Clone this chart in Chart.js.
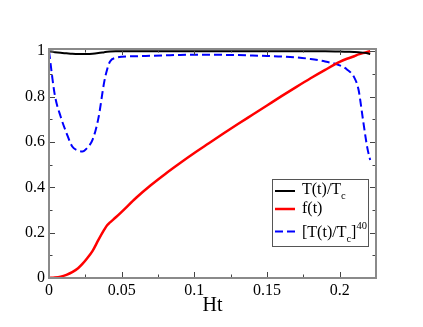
<!DOCTYPE html>
<html>
<head>
<meta charset="utf-8">
<script src="https://cdn.jsdelivr.net/npm/chart.js@4.4.1/dist/chart.umd.min.js"></script>
<style>
  html, body { margin: 0; padding: 0; background: #fff; }
  canvas { display: block; }
</style>
</head>
<body>
<canvas id="chart" width="423" height="327"></canvas>
<script>
// Ht sample points shared by the three curves
const hValues = [0, 0.004, 0.008, 0.012, 0.016, 0.02, 0.023, 0.026, 0.03, 0.034, 0.038, 0.04, 0.042, 0.046,
  0.05, 0.06, 0.07, 0.08, 0.09, 0.1, 0.11, 0.12, 0.13, 0.14, 0.15, 0.16, 0.17, 0.18, 0.19, 0.2,
  0.205, 0.21, 0.213, 0.216, 0.219, 0.221];

const tRatio = [1.0, 0.996, 0.993, 0.991, 0.989, 0.988, 0.988, 0.988, 0.989, 0.992, 0.996, 0.998, 0.999, 1.0,
  1.0, 1.0, 1.0, 1.0, 1.0, 1.0, 1.0, 1.0, 1.0, 1.0, 1.0, 1.0, 1.0, 1.0, 1.0, 0.999,
  0.998, 0.997, 0.996, 0.994, 0.991, 0.988];

const fValues = [0, 0.002, 0.006, 0.014, 0.026, 0.043, 0.062, 0.085, 0.12, 0.168, 0.213, 0.233, 0.245, 0.268,
  0.292, 0.354, 0.409, 0.459, 0.506, 0.551, 0.594, 0.637, 0.679, 0.72, 0.761, 0.802, 0.842, 0.881, 0.918, 0.953,
  0.967, 0.978, 0.986, 0.992, 0.997, 1.0];

const tPow40 = [1.0, 0.807, 0.712, 0.64, 0.58, 0.562, 0.558, 0.572, 0.61, 0.705, 0.865, 0.92, 0.955, 0.971,
  0.976, 0.978, 0.98, 0.982, 0.984, 0.985, 0.985, 0.984, 0.983, 0.981, 0.979, 0.977, 0.973, 0.966, 0.955, 0.938,
  0.92, 0.885, 0.83, 0.70, 0.575, 0.52];

const xTickValues = [0, 0.05, 0.1, 0.15, 0.2];
const xTickLabels = ["0", "0.05", "0.1", "0.15", "0.2"];
const yTickValues = [0, 0.2, 0.4, 0.6, 0.8, 1];
const yTickLabels = ["0", "0.2", "0.4", "0.6", "0.8", "1"];

const SERIF = '"Liberation Serif", "DejaVu Serif", serif';

function toPoints(ys) {
  return hValues.map((x, i) => ({ x, y: ys[i] }));
}

function minorsOf(values) {
  const out = [];
  for (let i = 0; i < values.length - 1; i += 1) out.push((values[i] + values[i + 1]) / 2);
  return out;
}

// grey frame with inward ticks on all four sides
const frameAndTicks = {
  id: "frameAndTicks",
  afterDatasetsDraw(chart) {
    const { ctx, chartArea: a, scales: { x, y } } = chart;
    ctx.save();
    ctx.strokeStyle = "#444";
    ctx.lineWidth = 1;
    const xTick = (v, len) => {
      const px = Math.round(x.getPixelForValue(v)) + 0.5;
      ctx.beginPath();
      ctx.moveTo(px, a.bottom);
      ctx.lineTo(px, a.bottom - len);
      ctx.moveTo(px, a.top);
      ctx.lineTo(px, a.top + len);
      ctx.stroke();
    };
    const yTick = (v, len) => {
      const py = Math.round(y.getPixelForValue(v)) + 0.5;
      ctx.beginPath();
      ctx.moveTo(a.left, py);
      ctx.lineTo(a.left + len, py);
      ctx.moveTo(a.right, py);
      ctx.lineTo(a.right - len, py);
      ctx.stroke();
    };
    xTickValues.forEach((v) => xTick(v, 6));
    minorsOf(xTickValues).forEach((v) => xTick(v, 3.5));
    yTickValues.forEach((v) => yTick(v, 6));
    minorsOf(yTickValues).forEach((v) => yTick(v, 3.5));

    ctx.strokeStyle = "#8a8a8a";
    ctx.lineWidth = 2;
    ctx.strokeRect(a.left, a.top, a.right - a.left, a.bottom - a.top);
    ctx.restore();
  },
};

function drawRich(ctx, parts, x, y) {
  parts.forEach((part) => {
    const small = part.sub || part.sup;
    ctx.font = `${small ? 10.5 : 16}px ${SERIF}`;
    const dy = part.sub ? 5 : part.sup ? -8 : 0;
    ctx.fillText(part.t, x, y + dy);
    x += ctx.measureText(part.t).width;
  });
}

const legendBox = {
  id: "legendBox",
  afterDraw(chart) {
    const { ctx, chartArea: a } = chart;
    const left = a.right - 104;
    const top = a.top + 130;
    ctx.save();
    ctx.fillStyle = "#fff";
    ctx.fillRect(left, top, 96, 67);
    ctx.strokeStyle = "#555";
    ctx.lineWidth = 1;
    ctx.strokeRect(left + 0.5, top + 0.5, 96, 67);
    const rows = [
      { line: 12, base: 15 },
      { line: 30, base: 33.5 },
      { line: 52.5, base: 57.5 },
    ];
    chart.data.datasets.forEach((ds, i) => {
      const r = rows[i];
      ctx.beginPath();
      ctx.strokeStyle = ds.borderColor;
      ctx.lineWidth = ds.borderWidth;
      ctx.setLineDash(ds.borderDash || []);
      ctx.moveTo(left + 3, top + r.line);
      ctx.lineTo(left + 23, top + r.line);
      ctx.stroke();
      ctx.setLineDash([]);
      ctx.fillStyle = "#000";
      ctx.textBaseline = "alphabetic";
      ctx.textAlign = "left";
      drawRich(ctx, ds.legendParts, left + 30, top + r.base);
    });
    ctx.restore();
  },
};

new Chart(document.getElementById("chart"), {
  type: "line",
  data: {
    datasets: [
      {
        label: "T(t)/Tc",
        legendParts: [{ t: "T(t)/T" }, { t: "c", sub: true }],
        data: toPoints(tRatio),
        borderColor: "#000000",
        borderWidth: 2,
      },
      {
        label: "f(t)",
        legendParts: [{ t: "f(t)" }],
        data: toPoints(fValues),
        borderColor: "#ff0000",
        borderWidth: 2.5,
      },
      {
        label: "[T(t)/Tc]^40",
        legendParts: [{ t: "[T(t)/T" }, { t: "c", sub: true }, { t: "]" }, { t: "40", sup: true }],
        data: toPoints(tPow40),
        borderColor: "#0000ff",
        borderWidth: 2,
        borderDash: [8, 4],
      },
    ],
  },
  options: {
    responsive: false,
    animation: false,
    layout: { padding: { top: 49, right: 47, left: 0, bottom: 0 } },
    elements: {
      point: { radius: 0 },
      line: { cubicInterpolationMode: "monotone", fill: false },
    },
    plugins: { legend: { display: false }, tooltip: { enabled: false } },
    scales: {
      x: {
        type: "linear",
        min: 0,
        max: 0.225,
        grid: { display: false, drawTicks: false },
        border: { display: false },
        afterBuildTicks: (s) => { s.ticks = xTickValues.map((v) => ({ value: v })); },
        afterFit: (s) => { s.height = 49; },
        ticks: {
          padding: 3,
          color: "#000",
          maxRotation: 0,
          autoSkip: false,
          font: { family: SERIF, size: 16 },
          callback: (v, i) => xTickLabels[i],
        },
        title: {
          display: true,
          text: "Ht",
          color: "#000",
          font: { family: SERIF, size: 20 },
          padding: { top: 0, bottom: 9 },
        },
      },
      y: {
        type: "linear",
        min: 0,
        max: 1.01,
        grid: { display: false, drawTicks: false },
        border: { display: false },
        afterBuildTicks: (s) => { s.ticks = yTickValues.map((v) => ({ value: v })); },
        afterFit: (s) => { s.width = 49; },
        ticks: {
          padding: 4,
          color: "#000",
          autoSkip: false,
          font: { family: SERIF, size: 16 },
          callback: (v, i) => yTickLabels[i],
        },
      },
    },
  },
  plugins: [frameAndTicks, legendBox],
});
</script>
</body>
</html>
